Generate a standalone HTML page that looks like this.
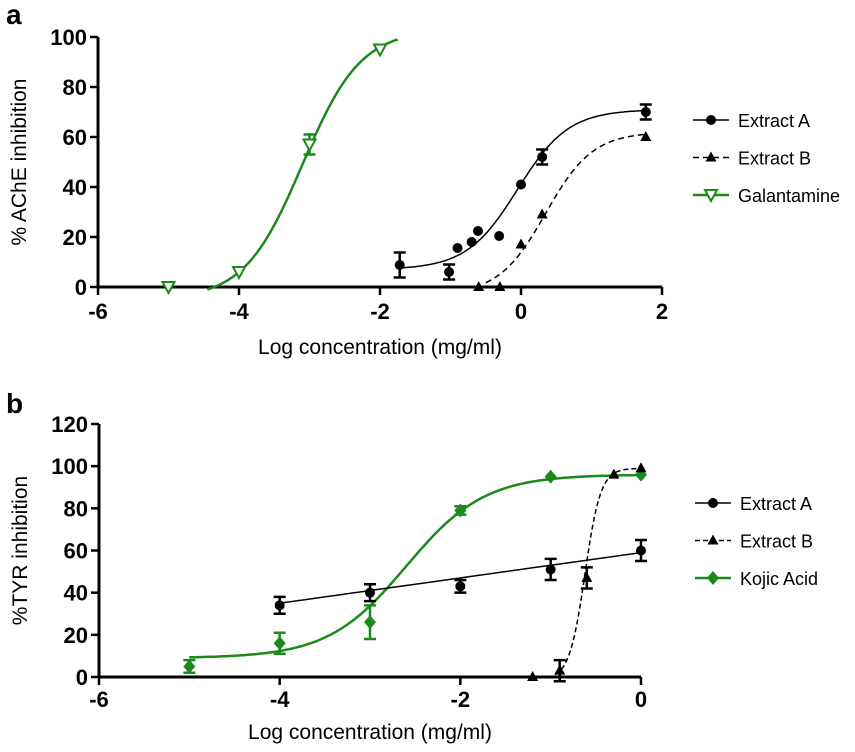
<!DOCTYPE html>
<html><head><meta charset="utf-8"><style>
body{margin:0;background:#fff}
svg text{font-family:"Liberation Sans",Arial,sans-serif}
</style></head><body>
<svg id="s" width="855" height="747" xmlns="http://www.w3.org/2000/svg"></svg>
<script>
// Panel a data
const aXticks=[-6,-4,-2,0,2];
const aYticks=[0,20,40,60,80,100];
const aExtAx=[-1.72,-1.02,-0.9,-0.7,-0.61,-0.31,0,0.3,1.77];
const aExtAy=[8.8,6,15.6,18,22.4,20.4,41,52,70];
const aExtAerr=[5,3,0,0,0,0,0,3,3];
const aExtBx=[-0.6,-0.3,0,0.3,1.77];
const aExtBy=[0,0,17,29,60];
const aGalx=[-5,-4,-3,-2];
const aGaly=[0,6,57,95];
const aGalerr=[0,0,4,0];
// Panel b data
const bXticks=[-6,-4,-2,0];
const bYticks=[0,20,40,60,80,100,120];
const bExtAx=[-4,-3,-2,-1,0];
const bExtAy=[34,40,43,51,60];
const bExtAerr=[4,4,3,5,5];
const bExtBx=[-1.2,-0.9,-0.6,-0.3,0];
const bExtBy=[0,3,47,96,99];
const bExtBerr=[0,5,5,0,0];
const bKojx=[-5,-4,-3,-2,-1,0];
const bKojy=[5,16,26,79,95,96];
const bKojerr=[3,5,8,2,0,0];

const S=document.getElementById('s');const NS='http://www.w3.org/2000/svg';
function el(t,a,p){const e=document.createElementNS(NS,t);for(const k in a)e.setAttribute(k,a[k]);(p||S).appendChild(e);return e;}
function txt(x,y,s,o){const e=el('text',Object.assign({x:x,y:y},o||{}));e.textContent=s;return e;}
const G='#1a8a1a';
function panel(cfg){
  const g=el('g',{});
  
  
  const X=v=>cfg.x0+(v-cfg.xmin)*(cfg.x1-cfg.x0)/(cfg.xmax-cfg.xmin);
  const Y=v=>cfg.y0-(v-cfg.ymin)*(cfg.y0-cfg.y1)/(cfg.ymax-cfg.ymin);
  cfg.X=X;cfg.Y=Y;
  el('line',{x1:cfg.x0,y1:Y(cfg.ymin),x2:cfg.x0,y2:Y(cfg.ymax),stroke:'#000','stroke-width':3},g);
  el('line',{x1:cfg.x0,y1:cfg.y0,x2:cfg.x1,y2:cfg.y0,stroke:'#000','stroke-width':3},g);
  cfg.yt.forEach(v=>{el('line',{x1:cfg.x0-8,y1:Y(v),x2:cfg.x0,y2:Y(v),stroke:'#000','stroke-width':2.5},g);
    const t=txt(cfg.x0-11,Y(v)+8,String(v),{'text-anchor':'end','font-size':22,'font-weight':'bold'});g.appendChild(t);});
  cfg.xt.forEach(v=>{el('line',{x1:X(v),y1:cfg.y0,x2:X(v),y2:cfg.y0+8,stroke:'#000','stroke-width':2.5},g);
    const t=txt(X(v),cfg.y0+cfg.tickOff,String(v),{'text-anchor':'middle','font-size':22,'font-weight':'bold'});g.appendChild(t);});
  const xl=txt((cfg.x0+cfg.x1)/2,cfg.y0+cfg.titleOff,'Log concentration (mg/ml)',{'text-anchor':'middle','font-size':21});
  g.appendChild(xl);
  const yl=txt(0,0,cfg.ytitle,{'text-anchor':'middle','font-size':21,transform:`translate(${cfg.x0-72},${(cfg.y0+Y(cfg.ymax))/2}) rotate(-90)`});
  g.appendChild(yl);
  const pl=txt(6,cfg.labY,cfg.label,{'font-size':28,'font-weight':'bold'});
  g.appendChild(pl);
  return g;
}
function curve(cfg,f,a,b,color,dash,name){
  let d='';for(let i=0;i<=200;i++){const v=a+(b-a)*i/200;d+=(i?'L':'M')+cfg.X(v).toFixed(1)+','+cfg.Y(f(v)).toFixed(1);}
  const p=el('path',{d:d,fill:'none',stroke:color,'stroke-width':color===G?2.5:1.5,'stroke-dasharray':dash||'none'});
  
}
function marker(type,x,y,color){
  if(type==='circle')return el('circle',{cx:x,cy:y,r:5,fill:color});
  if(type==='tri')return el('polygon',{points:`${x},${y-6} ${x-5.5},${y+4} ${x+5.5},${y+4}`,fill:color});
  if(type==='itri')return el('polygon',{points:`${x-6},${y-5} ${x+6},${y-5} ${x},${y+6}`,fill:'#fff',stroke:color,'stroke-width':2});
  if(type==='diamond')return el('polygon',{points:`${x},${y-7} ${x+6},${y} ${x},${y+7} ${x-6},${y}`,fill:color});
}
function points(cfg,xs,ys,errs,type,color,name){
  xs.forEach((v,i)=>{const px=cfg.X(v),py=cfg.Y(ys[i]);const e=errs?errs[i]:0;
    if(e>0){const t=cfg.Y(ys[i]+e),b=cfg.Y(ys[i]-e);
      el('path',{d:`M${px},${t}V${b}M${px-6},${t}H${px+6}M${px-6},${b}H${px+6}`,stroke:color,'stroke-width':2.5,fill:'none'});}
    const m=marker(type,px,py,color);});
}
function legend(x,y,items){
  items.forEach((it,i)=>{const yy=y+i*37.5;
    el('line',{x1:x,y1:yy,x2:x+36,y2:yy,stroke:it.c,'stroke-width':it.c===G?2.5:1.5,'stroke-dasharray':it.d||'none'});
    marker(it.m,x+18,yy,it.c);
    const t=txt(x+45,yy+7,it.t,{'font-size':18});
    });
}
const hill=(b,t,ec,h)=>v=>b+(t-b)/(1+Math.pow(10,(ec-v)*h));
// Panel a
const A={name:'panel-a',x0:98,x1:662,xmin:-6,xmax:2,y0:287,y1:37,ymin:0,ymax:100,xt:aXticks,yt:aYticks,ytitle:'% AChE inhibition',label:'a',labY:24,tickOff:32,titleOff:67};
panel(A);
curve(A,hill(-5,103,-3.1,1.05),-4.45,-1.75,G,null,'galantamine-curve');
curve(A,hill(7,71,-0.05,1.2),-1.72,1.77,'#000',null,'extract-a-curve');
curve(A,hill(-3,62,0.35,1.3),-0.5,1.77,'#000','6,4','extract-b-curve');
points(A,aGalx,aGaly,aGalerr,'itri',G,'galantamine');
points(A,aExtAx,aExtAy,aExtAerr,'circle','#000','extract-a');
points(A,aExtBx,aExtBy,null,'tri','#000','extract-b');
legend(693,120,[{t:'Extract A',c:'#000',m:'circle'},{t:'Extract B',c:'#000',m:'tri',d:'6,4'},{t:'Galantamine',c:G,m:'itri'}]);
// Panel b
const B={name:'panel-b',x0:99,x1:641,xmin:-6,xmax:0,y0:677,y1:424,ymin:0,ymax:120,xt:bXticks,yt:bYticks,ytitle:'%TYR inhibition',label:'b',labY:413,tickOff:30,titleOff:62};
panel(B);
curve(B,hill(9,96,-2.6,1.0),-5,0,G,null,'kojic-acid-curve');
curve(B,v=>35+(59-35)*(v+4)/4,-4,0,'#000',null,'extract-a-curve');
curve(B,hill(-1,99,-0.62,5),-0.95,0,'#000','5,3','extract-b-curve');
points(B,bKojx,bKojy,bKojerr,'diamond',G,'kojic-acid');
points(B,bExtAx,bExtAy,bExtAerr,'circle','#000','extract-a');
points(B,bExtBx,bExtBy,bExtBerr,'tri','#000','extract-b');
legend(695,503,[{t:'Extract A',c:'#000',m:'circle'},{t:'Extract B',c:'#000',m:'tri',d:'5,3'},{t:'Kojic Acid',c:G,m:'diamond'}]);
</script>
</body></html>
